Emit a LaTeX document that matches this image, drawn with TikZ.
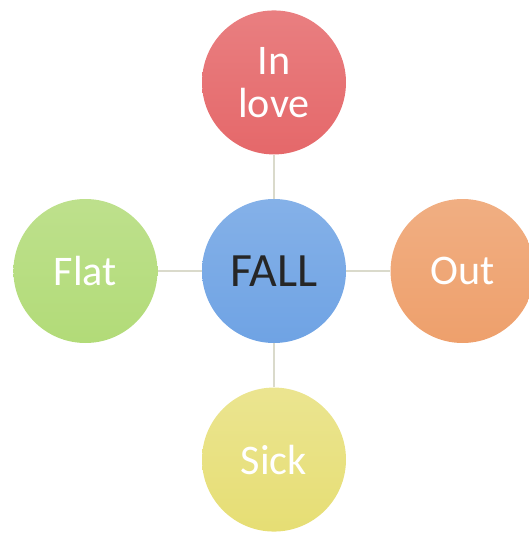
\documentclass[tikz,border=0pt]{standalone}
\usepackage{fontspec}
\setmainfont{Carlito}
\usetikzlibrary{positioning}
\definecolor{fallblue}{HTML}{6FA3E4}
\definecolor{lovered}{HTML}{E5686A}
\definecolor{flatgreen}{HTML}{B2DB78}
\definecolor{outorange}{HTML}{EEA06C}
\definecolor{sickyellow}{HTML}{E6DE74}
\definecolor{spoke}{HTML}{DADACB}
\tikzset{
  font=\fontsize{30}{31}\selectfont,
  bubble/.style={circle,minimum size=3.6cm,inner sep=0pt,align=center,
                 text=white},
  hub/.style={bubble,top color=fallblue!85!white,bottom color=fallblue,
              text=black!85,font=\fontsize{34}{36}\selectfont},
  link/.style={draw=spoke,line width=1.4pt},
}
\begin{document}
\begin{tikzpicture}[node distance=11mm]
  \useasboundingbox (0,0) rectangle (13.225,13.35);
  \node[hub] (fall) at (6.85,6.575) {FALL};
  \node[bubble,top color=lovered!85!white,bottom color=lovered,above=of fall] (love) {In\\love};
  \node[bubble,top color=sickyellow!80!white,bottom color=sickyellow,below=of fall] (sick) {Sick};
  \node[bubble,top color=flatgreen!85!white,bottom color=flatgreen,left=of fall] (flat) {Flat};
  \node[bubble,top color=outorange!85!white,bottom color=outorange,right=of fall] (out) {Out};

  \draw[link] (fall) -- (love); \draw[link] (fall) -- (sick);
  \draw[link] (fall) -- (flat); \draw[link] (fall) -- (out);
\end{tikzpicture}
\end{document}
